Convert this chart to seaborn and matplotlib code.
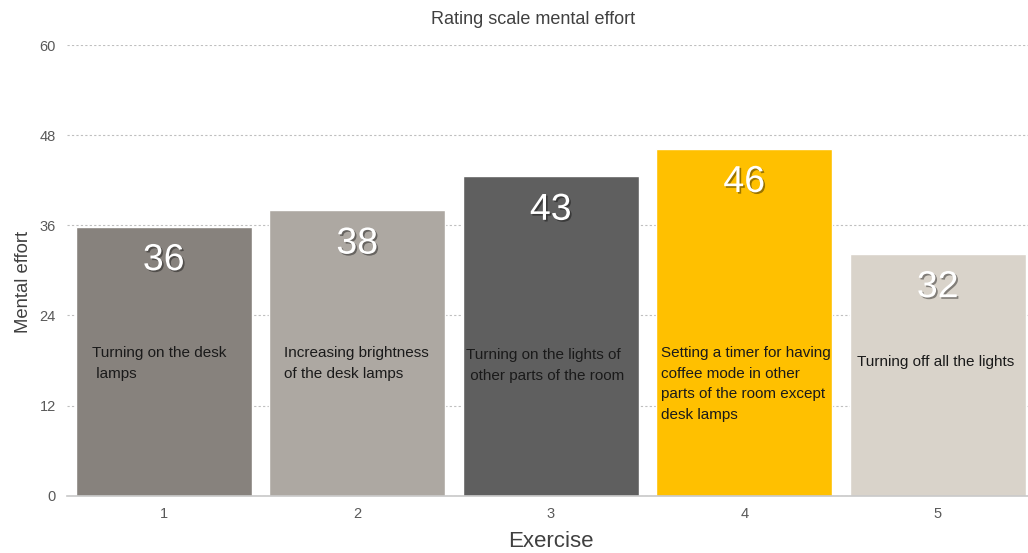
"""Rating scale mental effort bar chart."""

import matplotlib
matplotlib.use("Agg")
import matplotlib.pyplot as plt
import matplotlib.patheffects as pe
import pandas as pd
import seaborn as sns

# Data
exercises = ["1", "2", "3", "4", "5"]
effort = [35.8, 38.0, 42.5, 46.2, 32.2]
value_labels = ["36", "38", "43", "46", "32"]
descriptions = [
    "Turning on the desk\n lamps",
    "Increasing brightness\nof the desk lamps",
    "Turning on the lights of\n other parts of the room",
    "Setting a timer for having\ncoffee mode in other\nparts of the room except\ndesk lamps",
    "Turning off all the lights",
]
bar_colors = ["#87827D", "#ADA8A2", "#5F5F5F", "#FFC000", "#D9D3CA"]
y_ticks = [0, 12, 24, 36, 48, 60]

# Placement of the in-bar descriptions (data units)
desc_dx = [-0.372, -0.377, -0.439, -0.429, -0.419]
desc_y = [19.9, 19.9, 19.6, 19.9, 18.7]

df = pd.DataFrame({"Exercise": exercises, "Effort": effort})

sns.set_style("white")
plt.rcParams["font.family"] = ["Liberation Sans", "DejaVu Sans"]

fig = plt.figure(figsize=(10.28, 5.53), dpi=100)
ax = fig.add_axes([67 / 1028, 0.1036, (1034.5 - 67) / 1028, 0.8150])

sns.barplot(
    data=df, x="Exercise", y="Effort", hue="Exercise",
    palette=bar_colors, legend=False, width=0.91, saturation=1, ax=ax,
)

ax.set_xlim(-0.5, 4.5)
ax.set_ylim(0, 60)
ax.set_yticks(y_ticks)
ax.yaxis.grid(True, linestyle=(0, (2, 2)), color="#BFBFBF", linewidth=0.8)
ax.set_axisbelow(True)
for side in ["top", "right", "left"]:
    ax.spines[side].set_visible(False)
ax.spines["bottom"].set_color("#C8C8C8")
ax.spines["bottom"].set_linewidth(1.2)
ax.tick_params(axis="both", length=0, labelsize=10.5, colors="#595959", pad=8)

ax.set_xlabel("Exercise", fontsize=16, color="#404040", labelpad=7)
ax.set_ylabel("Mental effort", fontsize=13.3, color="#404040")
ax.yaxis.set_label_coords(-0.036, 0.474)
fig.text(0.5185, 0.965, "Rating scale mental effort", ha="center", va="center",
         fontsize=13, color="#404040")

shadow = [pe.withSimplePatchShadow(offset=(1.2, -1.2), shadow_rgbFace="#000000", alpha=0.4)]
for i, (val, lab, desc, dx, dy) in enumerate(zip(effort, value_labels, descriptions, desc_dx, desc_y)):
    ax.annotate(lab, (i, val), xytext=(0, -24), textcoords="offset points",
                ha="center", va="center", fontsize=27, color="white",
                path_effects=shadow)
    ax.text(i + dx, dy, desc, ha="left", va="top", fontsize=11,
            color="#1A1A1A", linespacing=1.6)

fig.savefig("out.png", dpi=100)
